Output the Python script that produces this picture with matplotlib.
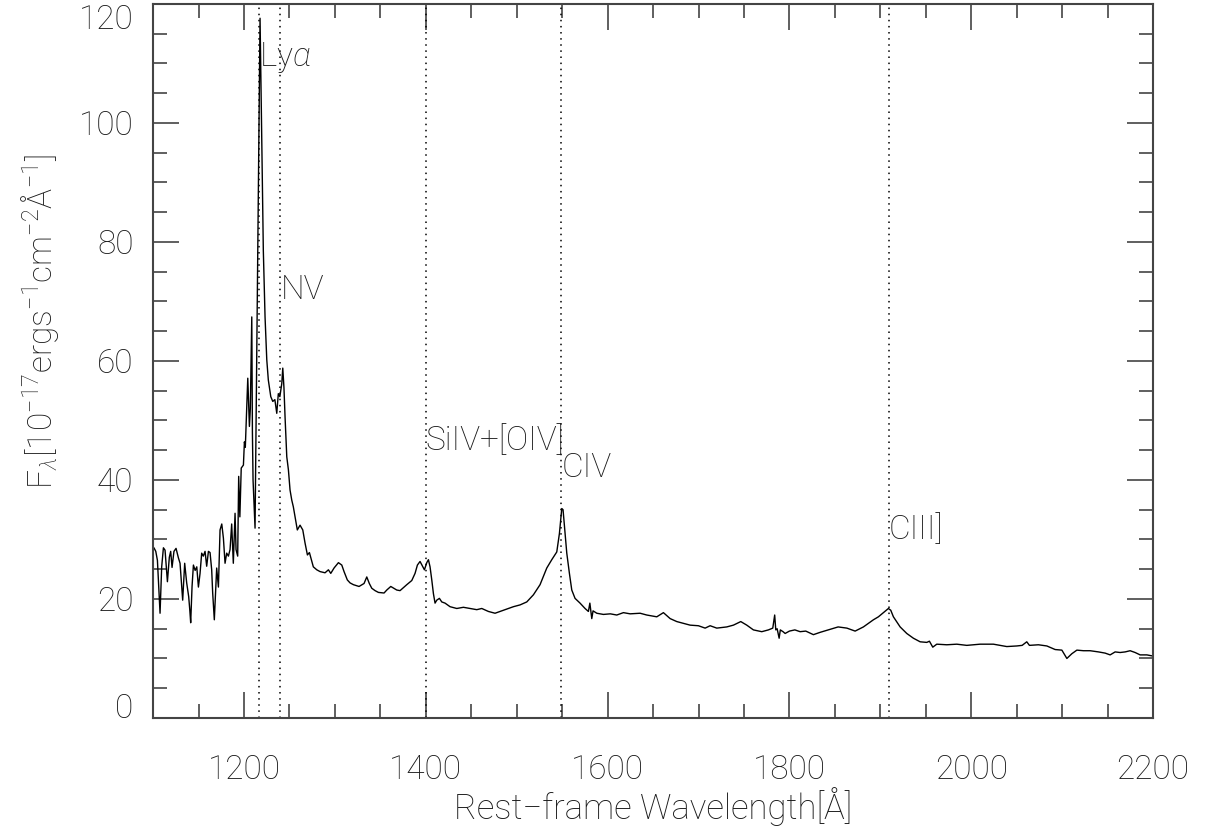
import matplotlib
matplotlib.use("Agg")
import matplotlib.pyplot as plt
from matplotlib.ticker import MultipleLocator

# rest-frame spectrum
WAVE = [1100, 1101, 1103, 1104.8, 1107.7, 1109.5, 1111.4, 1113.2, 1115.8, 1117.9, 1119.4,
        1120.9, 1123, 1125.3, 1127.9, 1129.7, 1132.6, 1134.8, 1137, 1139.2, 1140.5, 1141.4,
        1142.9, 1144.4, 1146.3, 1148.1, 1149.9, 1151.7, 1153.5, 1155.3, 1157.2, 1159,
        1160.9, 1162.7, 1164.5, 1165.6, 1167.4, 1170, 1171.9, 1173.7, 1175.6, 1177.4,
        1179.2, 1181, 1182.9, 1184.7, 1186.5, 1188.3, 1190.2, 1191.3, 1193.1, 1194.2,
        1195.5, 1197, 1199.4, 1200.5, 1201.5, 1204.2, 1206, 1207, 1208.6, 1209.3, 1210,
        1212.2, 1215, 1217.7, 1221.3, 1223.2, 1225.1, 1226.8, 1229.5, 1231.7, 1234,
        1236.1, 1237.8, 1239.5, 1241.6, 1242.7, 1244, 1245.2, 1247.1, 1248.9, 1250.7,
        1252.6, 1254.3, 1256.2, 1258.7, 1261.7, 1264.7, 1267.2, 1269.8, 1272, 1276.3,
        1280.1, 1283.7, 1289.2, 1292.9, 1295.5, 1299.1, 1303.9, 1307.6, 1310.1, 1313.7,
        1316.7, 1320.4, 1326.6, 1332.1, 1335.1, 1337.9, 1340.6, 1344.2, 1347.9, 1354.1,
        1357.1, 1361.5, 1368.1, 1371.7, 1379.1, 1384.6, 1388.2, 1390.8, 1393.7, 1398.5,
        1401.1, 1402.9, 1404.7, 1406.6, 1408.4, 1410.2, 1412.1, 1415, 1417.6, 1421.2,
        1426.7, 1434.1, 1441.4, 1448.7, 1456.1, 1461.6, 1468.9, 1476.2, 1481.7, 1489.1,
        1496.4, 1503.7, 1511.1, 1518.4, 1525.7, 1533.1, 1538.6, 1544.1, 1547, 1549.6,
        1551, 1553.2, 1555.1, 1558, 1560.6, 1564.2, 1569.7, 1575.2, 1578.9, 1580.5,
        1582.6, 1584, 1588.1, 1595.4, 1603, 1610.1, 1617.4, 1624.8, 1635.8, 1643.1,
        1654.1, 1661.4, 1668.8, 1676.1, 1683.4, 1690.8, 1699.9, 1707.3, 1712.8, 1720.1,
        1731.1, 1738.4, 1746.5, 1753.1, 1760.4, 1769.6, 1776.9, 1781.7, 1783.8, 1785,
        1786.5, 1788.7, 1790, 1793, 1795.3, 1800, 1806, 1811.8, 1818, 1826.4, 1834,
        1842.6, 1853.6, 1863.2, 1872.3, 1881.4, 1892.4, 1897.9, 1903.4, 1908.9, 1911.5,
        1914.4, 1921.8, 1929.1, 1936.4, 1943.8, 1951.1, 1954, 1957.7, 1962.1, 1973.1,
        1984.1, 1995.1, 2009.8, 2024.4, 2039.1, 2050.1, 2056, 2061.1, 2064, 2073.9,
        2083.2, 2092.3, 2099.7, 2105.2, 2110.7, 2116.2, 2123.5, 2130.8, 2140, 2147.3,
        2152.8, 2158.3, 2163.8, 2169.3, 2174.8, 2180.3, 2185.8, 2193.2, 2200]
FLUX = [28.4, 28.6, 28.0, 26.5, 17.6, 25.4, 28.6, 28.2, 22.9, 27.0, 28.0,
        25.3, 28.0, 28.5, 26.9, 26.0, 19.8, 26.0, 22.7, 20.4, 18.0, 16.0,
        22.1, 25.7, 24.8, 25.4, 22.0, 24.3, 27.7, 27.2, 28.0, 25.5,
        28.0, 27.8, 24.9, 21.0, 16.5, 25.2, 22.0, 31.6, 32.6, 30.2,
        26.0, 27.7, 27.2, 28.3, 32.6, 26.0, 34.4, 28.3, 27.2, 40.6,
        33.8, 42.0, 42.5, 46.4, 45.5, 57.1, 49.0, 52.0, 67.4, 48.0, 40.0,
        31.9, 75.0, 117.6, 78.6, 67.4, 60.2, 56.8, 54.0, 53.2, 53.5,
        51.2, 54.5, 54.0, 56.2, 58.8, 55.5, 50.6, 43.9, 41.7, 38.3,
        36.6, 35.5, 33.8, 31.6, 32.4, 31.6, 29.4, 27.4, 27.8, 25.4,
        24.9, 24.6, 24.4, 24.9, 24.3, 25.2, 26.1, 25.7, 24.6, 23.2,
        22.7, 22.4, 22.1, 22.6, 23.7, 22.6, 21.8, 21.4, 21.1, 21.0,
        21.5, 22.1, 21.5, 21.4, 22.4, 23.1, 24.3, 25.7, 26.3, 24.9,
        26.1, 26.6, 25.4, 23.2, 20.9, 19.3, 19.8, 20.1, 19.5, 19.3,
        18.7, 18.4, 18.6, 18.4, 18.2, 18.4, 17.9, 17.6, 17.9, 18.3,
        18.7, 19.0, 19.5, 20.7, 22.4, 25.2, 26.6, 27.9, 31.0, 35.2,
        35.0, 31.0, 27.7, 24.3, 21.5, 20.1, 19.3, 18.4, 17.9, 19.3,
        16.7, 18.0, 17.6, 17.4, 17.5, 17.3, 17.7, 17.5, 17.6, 17.3,
        17.0, 17.7, 16.7, 16.2, 15.9, 15.6, 15.5, 15.1, 15.5, 15.1,
        15.3, 15.6, 16.2, 15.6, 14.8, 14.5, 14.8, 15.1, 17.3, 14.8,
        15.0, 13.4, 14.8, 14.5, 14.2, 14.6, 14.8, 14.5, 14.6, 14.0, 14.4,
        14.8, 15.3, 15.1, 14.6, 15.3, 16.5, 17.0, 17.7, 18.4, 18.1,
        17.0, 15.3, 14.2, 13.4, 12.8, 12.7, 12.9, 11.9, 12.4, 12.3,
        12.4, 12.2, 12.4, 12.4, 12.0, 12.1, 12.2, 12.8, 12.2, 12.3,
        12.1, 11.5, 11.4, 10.0, 10.8, 11.4, 11.3, 11.3, 11.1, 10.9,
        10.6, 11.1, 11.0, 11.1, 11.3, 11.0, 10.6, 10.6, 10.4]

# emission lines: marker position, label, label height
LINE_WAVE = [1216, 1240, 1400, 1549, 1909]
LINE_NAMES = [r"Ly$\alpha$", "NV", "SiIV+[OIV]", "CIV", "CIII]"]
LINE_LABEL_Y = [111, 72, 46.5, 42, 31.5]

TXT = "#1a1a1a"
plt.rcParams["font.family"] = ["Roboto", "DejaVu Sans"]
plt.rcParams["font.weight"] = "light"
plt.rcParams["axes.labelweight"] = "light"
plt.rcParams["mathtext.fontset"] = "custom"
plt.rcParams["mathtext.rm"] = "Roboto:weight=light"
plt.rcParams["mathtext.it"] = "Roboto:italic:weight=light"

fig = plt.figure(figsize=(12.07, 8.26), dpi=100)
ax = fig.add_axes([0.1268, 0.1308, 0.8285, 0.8644])

ax.plot(WAVE, FLUX, color="black", lw=1.0)
for w, name, ly in zip(LINE_WAVE, LINE_NAMES, LINE_LABEL_Y):
    ax.axvline(w, color="black", ls=(0, (1, 3)), lw=1.1)
    ax.text(w, ly, name, ha="left", va="center", fontsize=24, color=TXT)

ax.set_xlim(1100, 2200)
ax.set_ylim(0, 120)
ax.xaxis.set_major_locator(MultipleLocator(200))
ax.xaxis.set_minor_locator(MultipleLocator(50))
ax.yaxis.set_major_locator(MultipleLocator(20))
ax.yaxis.set_minor_locator(MultipleLocator(5))
ax.tick_params(which="both", direction="in", top=True, right=True, colors="#444444",
               labelcolor=TXT, labelsize=24, width=1.2)
ax.tick_params(which="major", length=19)
ax.tick_params(which="minor", length=10)
ax.tick_params(axis="x", pad=26)
ax.tick_params(axis="y", pad=14)
for s in ax.spines.values():
    s.set_color("#444444")
    s.set_linewidth(1.5)

ax.set_xlabel("Rest\u2212frame Wavelength[Å]", fontsize=25, color=TXT, va="bottom")
ax.xaxis.set_label_coords(0.541, 0.0, transform=fig.transFigure)
fig.text(0.033, 0.61, r"F$_\lambda$[10$^{-17}$ergs$^{-1}$cm$^{-2}$Å$^{-1}$]",
         rotation=90, ha="center", va="center", fontsize=24, color=TXT)

# IDL puts the end labels inside the axis range
fig.canvas.draw()
for lab in ax.get_yticklabels():
    if lab.get_text() == "120":
        lab.set_va("top")
    elif lab.get_text() == "0":
        lab.set_va("baseline")

fig.savefig("out.png", dpi=100)
